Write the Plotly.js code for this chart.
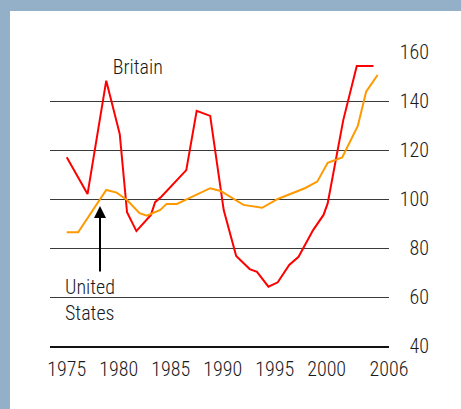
<!DOCTYPE html>
<html>
<head>
<meta charset="utf-8">
<script src="https://cdn.plot.ly/plotly-3.0.1.min.js"></script>
<style>
html,body{margin:0;padding:0;background:#94AFC8;}
#chart{width:461px;height:409px;}
#chart text{font-stretch:75% !important; font-weight:360 !important;}
</style>
</head>
<body>
<div id="chart"></div>
<script>
// Data (index values)
const britainYears = [1975.0, 1977.0, 1978.8, 1980.1, 1980.8, 1981.7, 1983.1, 1983.5, 1984.1, 1986.5, 1987.5, 1988.8, 1990.1, 1991.3, 1992.6, 1993.3, 1994.4, 1995.3, 1996.4, 1997.3, 1998.7, 1999.7, 2000.1, 2001.6, 2002.9, 2004.5];
const britainValues = [117.0, 102.0, 148.3, 126.5, 94.6, 86.9, 93.5, 98.7, 100.9, 111.8, 136.0, 133.9, 95.5, 76.7, 71.4, 70.3, 64.2, 66.0, 73.1, 76.4, 87.3, 93.5, 98.2, 132.2, 154.3, 154.3];
const usYears = [1975.0, 1976.1, 1978.8, 1979.8, 1980.8, 1982.0, 1982.7, 1984.0, 1984.6, 1985.6, 1988.8, 1989.8, 1992.0, 1993.8, 1995.3, 1997.9, 1999.1, 2000.1, 2001.5, 2003.0, 2003.8, 2004.9];
const usValues = [86.4, 86.4, 103.7, 102.6, 99.6, 94.2, 93.2, 95.5, 98.0, 98.0, 104.4, 103.3, 97.6, 96.4, 100.0, 104.4, 107.1, 114.8, 117.0, 129.8, 143.8, 150.6];
const xTickVals = [1975, 1980, 1985, 1990, 1995, 2000, 2006];
const xTickText = ['1975', '1980', '1985', '1990', '1995', '2000', '2006'];
const yTickVals = [40, 60, 80, 100, 120, 140, 160];

const FONT = 'Roboto, "Liberation Sans", sans-serif';

const traces = [
  {x: britainYears, y: britainValues, type: 'scatter', mode: 'lines', name: 'Britain',
   line: {color: '#FF0000', width: 2}, hoverinfo: 'skip'},
  {x: usYears, y: usValues, type: 'scatter', mode: 'lines', name: 'United States',
   line: {color: '#FF9900', width: 2}, hoverinfo: 'skip'}
];

const layout = {
  width: 461, height: 409,
  margin: {l: 50, r: 20, t: 52, b: 63},
  paper_bgcolor: '#94AFC8',
  plot_bgcolor: 'rgba(0,0,0,0)',
  showlegend: false,
  font: {family: FONT, size: 20, color: '#1a1a1a'},
  xaxis: {
    domain: [0, 339/391],
    range: [1973.39, 2006],
    tickvals: xTickVals, ticktext: xTickText,
    showgrid: false, zeroline: false,
    showline: true, linecolor: '#111', linewidth: 2,
    ticks: '', ticklabelstandoff: 4,
    tickfont: {family: FONT, size: 20, color: '#1a1a1a'},
    fixedrange: true
  },
  yaxis: {
    range: [40, 160],
    tickvals: yTickVals,
    showgrid: true, gridcolor: '#3a3a3a', gridwidth: 1,
    zeroline: false, showline: false, ticks: '',
    anchor: 'free', position: 0.969, side: 'left',
    tickfont: {family: FONT, size: 20, color: '#1a1a1a'},
    fixedrange: true
  },
  shapes: [
    {type: 'rect', xref: 'paper', yref: 'paper', layer: 'below',
     x0: -40/391, x1: 411/391, y0: -63/294, y1: 335/294,
     fillcolor: '#FFFFFF', line: {width: 0}}
  ],
  annotations: [
    {x: 1981.8, y: 153.8, xref: 'x', yref: 'y', text: 'Britain', showarrow: false,
     xanchor: 'center', yanchor: 'middle', font: {family: FONT, size: 20, color: '#1a1a1a'}},
    {x: 1978.2, y: 97.1, xref: 'x', yref: 'y', text: '', showarrow: true,
     ax: 0, ay: 67, axref: 'pixel', ayref: 'pixel',
     arrowhead: 2, arrowsize: 1.2, arrowwidth: 2, arrowcolor: '#000', standoff: 0},
    {x: 1974.6, y: 69.8, xref: 'x', yref: 'y', text: 'United<br>States', showarrow: false,
     xanchor: 'left', yanchor: 'top', align: 'left',
     font: {family: FONT, size: 20, color: '#1a1a1a'}}
  ]
};

Plotly.newPlot('chart', traces, layout, {staticPlot: true, displayModeBar: false});
</script>
</body>
</html>
